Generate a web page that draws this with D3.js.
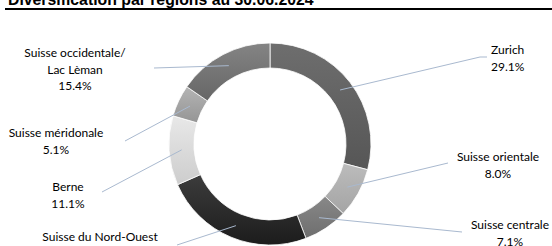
<!DOCTYPE html>
<html>
<head>
<meta charset="utf-8">
<script src="https://cdn.jsdelivr.net/npm/d3@7"></script>
<style>
  body { margin: 0; background: #fff; }
  .title { font-family: "Liberation Sans", Arial, sans-serif; font-weight: bold; font-size: 15.8px; }
  .lbl { font-family: Lato, "Noto Sans", sans-serif; font-size: 12px; fill: #000; }
</style>
</head>
<body>
<div id="chart"></div>
<script>
// regions clockwise from 12 o'clock
var regions = ["Zurich", "Suisse orientale", "Suisse centrale", "Suisse du Nord-Ouest",
               "Berne", "Suisse méridonale", "Suisse occidentale/\nLac Lèman"];
var shares = [29.1, 8.0, 7.1, 24.2, 11.1, 5.1, 15.4];

// grey shades, light -> dark
var shades = [["#6e6e6e", "#565656"], ["#bcbcbc", "#a4a4a4"], ["#888888", "#6e6e6e"],
              ["#3c3c3c", "#1c1c1c"], ["#e8e8e8", "#cdcdcd"], ["#b4b4b4", "#959595"],
              ["#848484", "#666666"]];

// where each text block sits and where its leader line starts
var labelPos = [
    {x: 491, y: 50, anchor: "start", lx: 480, ly: 57, hx: 487},
    {x: 498, y: 157, anchor: "middle", lx: 448, ly: 163},
    {x: 510, y: 225, anchor: "middle", lx: 462, ly: 232},
    {x: 100, y: 237, anchor: "middle", lx: 177, ly: 245},
    {x: 68, y: 187, anchor: "middle", lx: 102, ly: 192},
    {x: 56, y: 133, anchor: "middle", lx: 125, ly: 141},
    {x: 75, y: 53, anchor: "middle", lx: 154, ly: 68}
];

var width = 552, height = 246,
    cx = 270, cy = 144,
    outerRadius = 101, innerRadius = 76;

var svg = d3.select("#chart").append("svg")
    .attr("width", width)
    .attr("height", height);

var defs = svg.append("defs");
shades.forEach(function(s, i) {
    var g = defs.append("linearGradient")
        .attr("id", "grad" + i)
        .attr("x1", 0).attr("y1", 0).attr("x2", 0).attr("y2", 1);
    g.append("stop").attr("offset", "0%").attr("stop-color", s[0]);
    g.append("stop").attr("offset", "100%").attr("stop-color", s[1]);
});

svg.append("text")
    .attr("class", "title")
    .attr("x", 8)
    .attr("y", 5)
    .text("Diversification par régions au 30.06.2024");

svg.append("line")
    .attr("x1", 5).attr("x2", width)
    .attr("y1", 9).attr("y2", 9)
    .attr("stroke", "#000")
    .attr("stroke-width", 2);

var data = regions.map(function(r, i) {
    return {region: r, share: shares[i]};
});

var pie = d3.pie()
    .sort(null)
    .value(function(d) { return d.share; });

var arc = d3.arc().innerRadius(innerRadius).outerRadius(outerRadius);
var mid = d3.arc().innerRadius((innerRadius + outerRadius) / 2).outerRadius((innerRadius + outerRadius) / 2);

var vis = svg.append("g")
    .attr("transform", "translate(" + cx + "," + cy + ")");

var slices = pie(data);

vis.selectAll("path.slice")
    .data(slices)
    .enter()
    .append("path")
    .attr("class", "slice")
    .attr("d", arc)
    .attr("fill", function(d, i) { return "url(#grad" + i + ")"; })
    .attr("stroke", "#fff")
    .attr("stroke-width", 0.8);

// leader lines
svg.selectAll("path.leader")
    .data(slices)
    .enter()
    .append("path")
    .attr("class", "leader")
    .attr("fill", "none")
    .attr("stroke", "#a9b9cf")
    .attr("stroke-width", 1)
    .attr("d", function(d, i) {
        var p = labelPos[i], c = mid.centroid(d);
        var s = "M" + (cx + c[0]) + "," + (cy + c[1]) + "L" + p.lx + "," + p.ly;
        if (p.hx) s += "L" + p.hx + "," + p.ly;
        return s;
    });

// labels
var labels = svg.selectAll("text.lbl")
    .data(slices)
    .enter()
    .append("text")
    .attr("class", "lbl")
    .attr("text-anchor", function(d, i) { return labelPos[i].anchor; })
    .attr("transform", function(d, i) {
        return "translate(" + labelPos[i].x + "," + labelPos[i].y + ")";
    });

labels.each(function(d) {
    var lines = d.data.region.split("\n").concat([d3.format(".1f")(d.data.share) + "%"]);
    d3.select(this).selectAll("tspan")
        .data(lines)
        .enter()
        .append("tspan")
        .attr("x", 0)
        .attr("y", function(l, j) { return j * 16.5; })
        .attr("dy", "0.35em")
        .text(function(l) { return l; });
});
</script>
</body>
</html>
